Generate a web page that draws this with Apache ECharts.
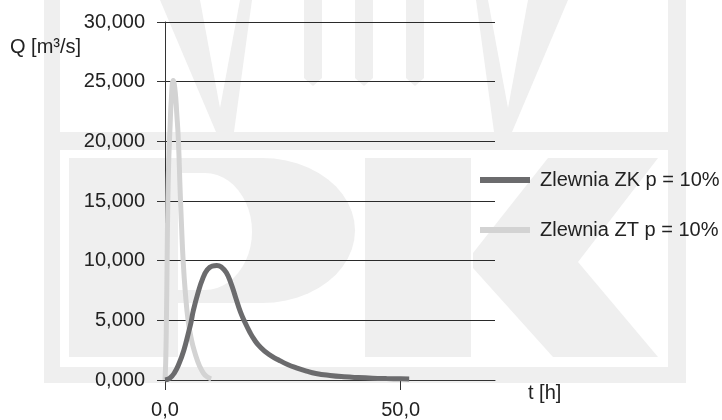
<!DOCTYPE html>
<html>
<head>
<meta charset="utf-8">
<script src="https://cdn.jsdelivr.net/npm/echarts@6/dist/echarts.min.js"></script>
<style>html,body{margin:0;padding:0;background:#fff}#c{width:722px;height:420px}</style>
</head>
<body>
<div id="c"></div>
<script>
// Data (t in hours, Q in m3/s)
const seriesNames = ['Zlewnia ZK p = 10%', 'Zlewnia ZT p = 10%'];
const zkTime = [0, 1, 2, 3, 4, 5, 5.5, 6, 7, 8, 9, 10, 11, 12, 13, 14, 15, 16, 17, 18, 19, 20, 22, 24, 26, 28, 30, 32, 35, 38, 41, 44, 47, 50, 51.8];
const zkFlow = [0, 0.15, 0.6, 1.4, 2.5, 4.0, 4.8, 5.8, 7.3, 8.5, 9.25, 9.55, 9.6, 9.45, 9.0, 8.1, 6.9, 5.7, 4.8, 4.0, 3.35, 2.85, 2.15, 1.7, 1.3, 1.0, 0.75, 0.55, 0.38, 0.27, 0.2, 0.15, 0.12, 0.1, 0.09];
const ztTime = [0, 0.15, 0.3, 0.45, 0.6, 0.8, 1.05, 1.35, 1.75, 2.15, 2.5, 2.85, 3.2, 3.5, 3.85, 4.3, 4.9, 5.6, 6.4, 7.3, 8.2, 9.0, 9.8];
const ztFlow = [0, 1.5, 5, 10, 15, 18.5, 21, 23.6, 25.1, 24.2, 22.3, 20.0, 16.0, 13.0, 10.0, 7.4, 5.0, 3.4, 2.2, 1.2, 0.55, 0.25, 0.1];
const xTickValues = [0, 50];
const yAxisTitle = 'Q [m³/s]';
const xAxisTitle = 't [h]';

const zip = (a, b) => a.map((v, i) => [v, b[i]]);
const WM = '#efefef';
const FONT = 'Liberation Sans, Arial, sans-serif';

// decorative watermark helper: straight start, half-ellipse bulge to the right
function dShape(x0, y0, xs, y1, rx) {
  const cy = (y0 + y1) / 2, ry = (y1 - y0) / 2, pts = [[x0, y0]];
  for (let k = 0; k <= 24; k++) {
    const a = -Math.PI / 2 + Math.PI * k / 24;
    pts.push([xs + rx * Math.cos(a), cy + ry * Math.sin(a)]);
  }
  pts.push([x0, y1]);
  return pts;
}

const watermark = [
  {type:'rect', shape:{x:44,y:0,width:16,height:383}},
  {type:'rect', shape:{x:668,y:0,width:18,height:383}},
  {type:'rect', shape:{x:44,y:367,width:642,height:16}},
  {type:'rect', shape:{x:44,y:132,width:642,height:18}},
  {type:'polygon', shape:{points:[[160,0],[252,0],[234,132],[216,132]]}},
  {type:'polygon', shape:{points:[[200,0],[240,0],[220,108]]}, white:true},
  {type:'polygon', shape:{points:[[568,0],[476,0],[494,132],[512,132]]}},
  {type:'polygon', shape:{points:[[528,0],[488,0],[508,108]]}, white:true},
  {type:'polygon', shape:{points:[[304,0],[322,0],[322,78],[313,86],[304,78]]}},
  {type:'polygon', shape:{points:[[355,0],[373,0],[373,78],[364,86],[355,78]]}},
  {type:'polygon', shape:{points:[[406,0],[424,0],[424,78],[415,86],[406,78]]}},
  {type:'rect', shape:{x:69,y:158,width:109,height:199}},
  {type:'polygon', shape:{points:dShape(178, 158, 262, 303, 93)}},
  {type:'polygon', shape:{points:dShape(178, 173, 205, 290, 47)}, white:true},
  {type:'rect', shape:{x:365,y:158,width:106,height:199}},
  {type:'polygon', shape:{points:[[548,158],[658,158],[578,262],[658,357],[553,357],[473,268],[473,253]]}}
].map((e, i) => ({type:e.type, shape:e.shape, z:-10 + i * 0.01, silent:true, style:{fill: e.white ? '#ffffff' : WM}}));

const chart = echarts.init(document.getElementById('c'), null, {renderer:'canvas'});
chart.setOption({
  animation: false,
  backgroundColor: '#ffffff',
  grid: {left:165, top:22, width:330, height:358},
  graphic: watermark.concat([
    {type:'text', left:10, top:37, z:10, style:{text:yAxisTitle, font:'20px ' + FONT, fill:'#222'}},
    {type:'text', left:528, top:383, z:10, style:{text:xAxisTitle, font:'20px ' + FONT, fill:'#222'}}
  ]),
  legend: {
    orient:'vertical', left:480, top:170, padding:0, itemWidth:50, itemHeight:6, itemGap:30,
    icon:'rect',
    data: seriesNames,
    textStyle:{fontSize:20, fontFamily:FONT, color:'#222', padding:[0,0,0,5]}
  },
  xAxis: {
    type:'value', min:0, max:70, interval:50,
    axisLine:{show:true, lineStyle:{color:'#333', width:1}},
    axisTick:{show:true, length:10, customValues:xTickValues, lineStyle:{color:'#333'}},
    axisLabel:{customValues:xTickValues, margin:20, fontSize:20, fontFamily:FONT, color:'#222',
      formatter: v => v.toFixed(1).replace('.', ',')},
    splitLine:{show:false}
  },
  yAxis: {
    type:'value', min:0, max:30, interval:5,
    axisLine:{show:true, lineStyle:{color:'#333', width:1}},
    axisTick:{show:true, length:8, lineStyle:{color:'#333'}},
    axisLabel:{margin:20, fontSize:20, fontFamily:FONT, color:'#222',
      formatter: v => v.toFixed(3).replace('.', ',')},
    splitLine:{show:true, lineStyle:{color:'#2a2a2a', width:1.2}}
  },
  series: [
    {name:seriesNames[0], type:'line', data:zip(zkTime, zkFlow), symbol:'none', smooth:0.5, z:4,
     lineStyle:{color:'#6b6b6d', width:5}, itemStyle:{color:'#6b6b6d'}},
    {name:seriesNames[1], type:'line', data:zip(ztTime, ztFlow), symbol:'none', smooth:0.5, z:3,
     lineStyle:{color:'#d3d3d3', width:5}, itemStyle:{color:'#d3d3d3'}}
  ]
});
</script>
</body>
</html>
